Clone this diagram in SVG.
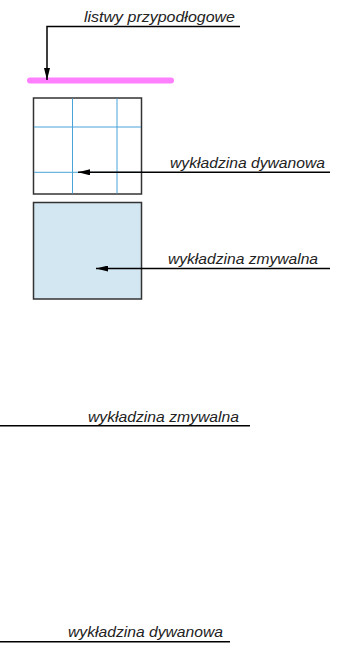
<svg xmlns="http://www.w3.org/2000/svg" width="351" height="658" viewBox="0 0 351 658">
<defs>
<style>
.lbl{font-family:"Liberation Sans",Arial,sans-serif;font-style:italic;font-size:15.5px;fill:#222}
.ln{stroke:#000;stroke-width:1.5;fill:none}
.grid{stroke:#4aa3d8;stroke-width:1}
.box{stroke:#333;stroke-width:1.5}
</style>
<marker id="ah" viewBox="0 0 12 6" refX="12" refY="3" markerWidth="12" markerHeight="6" markerUnits="userSpaceOnUse" orient="auto">
<path d="M0,0 L12,3 L0,6 Z" fill="#000"/>
</marker>
</defs>
<rect width="351" height="658" fill="#fff"/>
<g id="skirting">
<line x1="30" y1="80.5" x2="171" y2="80.5" stroke="#ff80ff" stroke-width="6" stroke-linecap="round"/>
</g>
<g id="carpet">
<rect class="box" x="33.5" y="98" width="108" height="96" fill="#fff"/>
<line class="grid" x1="72.5" y1="98.5" x2="72.5" y2="193.5"/>
<line class="grid" x1="117" y1="98.5" x2="117" y2="193.5"/>
<line class="grid" x1="34" y1="127" x2="141" y2="127"/>
<line class="grid" x1="34" y1="172.3" x2="141" y2="172.3" stroke="#1a7fc0"/>
</g>
<g id="washable">
<rect class="box" x="33.5" y="202.5" width="108" height="96.5" fill="#d3e7f2"/>
</g>
<g id="connectors">
<polyline class="ln" points="240,26.5 47,26.5 47,80" marker-end="url(#ah)"/>
<line class="ln" x1="330" y1="172.3" x2="78" y2="172.3" marker-end="url(#ah)"/>
<line class="ln" x1="330" y1="268.5" x2="96" y2="268.5" marker-end="url(#ah)"/>
<line class="ln" x1="0" y1="425.7" x2="250" y2="425.7"/>
<line class="ln" x1="0" y1="641.7" x2="230" y2="641.7"/>
</g>
<g id="labels">
<text class="lbl" x="84" y="22" textLength="151" lengthAdjust="spacingAndGlyphs">listwy przypodłogowe</text>
<text class="lbl" x="170" y="168" textLength="155" lengthAdjust="spacingAndGlyphs">wykładzina dywanowa</text>
<text class="lbl" x="168" y="264" textLength="150" lengthAdjust="spacingAndGlyphs">wykładzina zmywalna</text>
<text class="lbl" x="88" y="421.5" textLength="151" lengthAdjust="spacingAndGlyphs">wykładzina zmywalna</text>
<text class="lbl" x="68" y="637" textLength="155" lengthAdjust="spacingAndGlyphs">wykładzina dywanowa</text>
</g>
</svg>
